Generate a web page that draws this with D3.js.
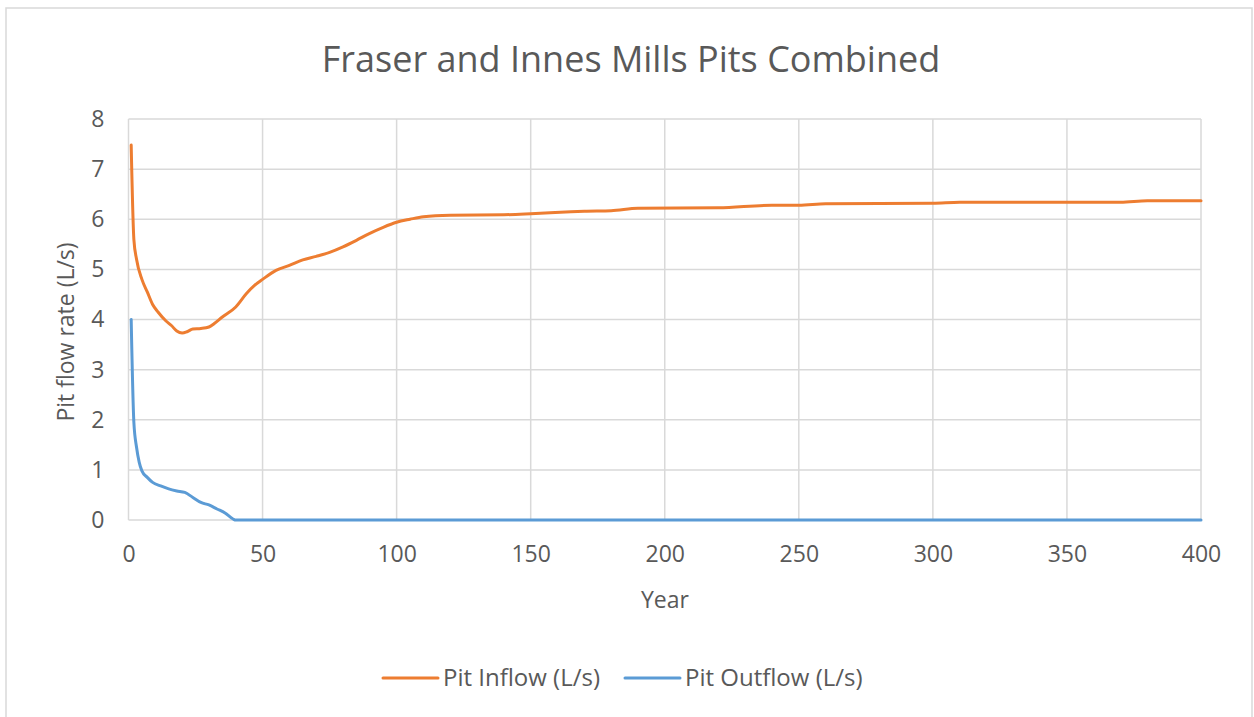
<!DOCTYPE html>
<html>
<head>
<meta charset="utf-8">
<script src="https://cdn.jsdelivr.net/npm/d3@7"></script>
<style>
  body { margin: 0; background: #fff; }
  text { font-family: "Open Sans", "Noto Sans", sans-serif; fill: #595959; }
</style>
</head>
<body>
<div id="chart"></div>
<script>
// Datos (año, caudal L/s)
const inflowYears  = [1, 2, 3, 5, 7, 9, 11, 14, 16, 18, 20, 22, 24, 27, 30, 32, 35, 40, 44, 47, 50, 55, 60, 65, 70, 75, 80, 85, 90, 95, 100, 105, 110, 120, 140, 150, 165, 170, 180, 190, 220, 240, 250, 260, 300, 310, 370, 380, 400];
const inflowValues = [7.48, 5.6, 5.2, 4.8, 4.55, 4.3, 4.15, 3.97, 3.88, 3.77, 3.73, 3.76, 3.81, 3.82, 3.85, 3.92, 4.05, 4.25, 4.52, 4.68, 4.8, 4.98, 5.08, 5.19, 5.26, 5.34, 5.45, 5.58, 5.72, 5.84, 5.94, 6.0, 6.05, 6.08, 6.09, 6.11, 6.15, 6.16, 6.17, 6.22, 6.23, 6.28, 6.28, 6.31, 6.32, 6.34, 6.34, 6.37, 6.37];

const outflowYears  = [1, 2, 3, 4, 5, 7, 9, 12, 15, 18, 21, 24, 27, 30, 33, 36, 39, 40, 400];
const outflowValues = [4.0, 1.95, 1.45, 1.15, 0.98, 0.85, 0.75, 0.68, 0.62, 0.58, 0.55, 0.45, 0.35, 0.3, 0.22, 0.14, 0.02, 0, 0];

const xTicks = [0, 50, 100, 150, 200, 250, 300, 350, 400];
const yTicks = [0, 1, 2, 3, 4, 5, 6, 7, 8];

const seriesNames  = ['Pit Inflow (L/s)', 'Pit Outflow (L/s)'];
const seriesColors = ['#ED7D31', '#5B9BD5'];

const title = 'Fraser and Innes Mills Pits Combined';
const xTitle = 'Year';
const yTitle = 'Pit flow rate (L/s)';

function drawChart() {
  const width = 1254;
  const height = 717;
  // area del grafico
  const left = 128.5, right = 1201, top = 119, bottom = 520;

  const svg = d3.select('#chart')
    .append('svg')
    .attr('width', width)
    .attr('height', height);

  // borde exterior
  svg.append('path')
    .attr('d', `M6,${height + 2} V8 H1252 V${height + 2}`)
    .attr('fill', 'none')
    .attr('stroke', '#d9d9d9')
    .attr('stroke-width', 1.5);

  const x = d3.scaleLinear().domain([0, 400]).range([left, right]);
  const y = d3.scaleLinear().domain([0, 8]).range([bottom, top]);

  // rejilla horizontal
  svg.append('g')
    .selectAll('line')
    .data(yTicks)
    .enter()
    .append('line')
    .attr('x1', left).attr('x2', right)
    .attr('y1', d => y(d)).attr('y2', d => y(d))
    .attr('stroke', '#d9d9d9')
    .attr('stroke-width', 1.5);

  // rejilla vertical
  svg.append('g')
    .selectAll('line')
    .data(xTicks)
    .enter()
    .append('line')
    .attr('x1', d => x(d)).attr('x2', d => x(d))
    .attr('y1', top).attr('y2', bottom)
    .attr('stroke', '#d9d9d9')
    .attr('stroke-width', 1.5);

  // ejes (solo etiquetas)
  const axisX = d3.axisBottom(x).tickValues(xTicks).tickSize(0).tickPadding(26);
  const gx = svg.append('g')
    .attr('transform', `translate(0,${bottom})`)
    .call(axisX);
  gx.select('.domain').remove();
  gx.selectAll('text')
    .attr('font-size', 23)
    .attr('font-family', '"Open Sans", sans-serif')
    .attr('fill', '#595959');

  const axisY = d3.axisLeft(y).tickValues(yTicks).tickSize(0).tickPadding(24);
  const gy = svg.append('g')
    .attr('transform', `translate(${left},0)`)
    .call(axisY);
  gy.select('.domain').remove();
  gy.selectAll('text')
    .attr('font-size', 23)
    .attr('font-family', '"Open Sans", sans-serif')
    .attr('fill', '#595959');

  // lineas de datos
  const line = d3.line()
    .x(d => x(d[0]))
    .y(d => y(d[1]))
    .curve(d3.curveMonotoneX);

  const inflow = inflowYears.map((d, i) => [d, inflowValues[i]]);
  const outflow = outflowYears.map((d, i) => [d, outflowValues[i]]);

  [inflow, outflow].forEach((data, i) => {
    svg.append('path')
      .attr('fill', 'none')
      .attr('stroke', seriesColors[i])
      .attr('stroke-width', 3)
      .attr('stroke-linejoin', 'round')
      .attr('stroke-linecap', 'round')
      .attr('d', line(data));
  });

  // titulos
  svg.append('text')
    .attr('x', 631).attr('y', 72)
    .attr('text-anchor', 'middle')
    .attr('font-size', 36)
    .text(title);

  svg.append('text')
    .attr('x', 665).attr('y', 608)
    .attr('text-anchor', 'middle')
    .attr('font-size', 23)
    .text(xTitle);

  svg.append('text')
    .attr('transform', 'translate(74,332) rotate(-90)')
    .attr('text-anchor', 'middle')
    .attr('font-size', 23)
    .text(yTitle);

  // leyenda
  const legendX = [383, 625];
  seriesNames.forEach((name, i) => {
    const g = svg.append('g').attr('transform', `translate(${legendX[i]},678)`);
    g.append('line')
      .attr('x1', 0).attr('x2', 55)
      .attr('y1', 0).attr('y2', 0)
      .attr('stroke', seriesColors[i])
      .attr('stroke-width', 3)
      .attr('stroke-linecap', 'round');
    g.append('text')
      .attr('x', 60).attr('y', 8)
      .attr('font-size', 24)
      .text(name);
  });
}

drawChart();
</script>
</body>
</html>
